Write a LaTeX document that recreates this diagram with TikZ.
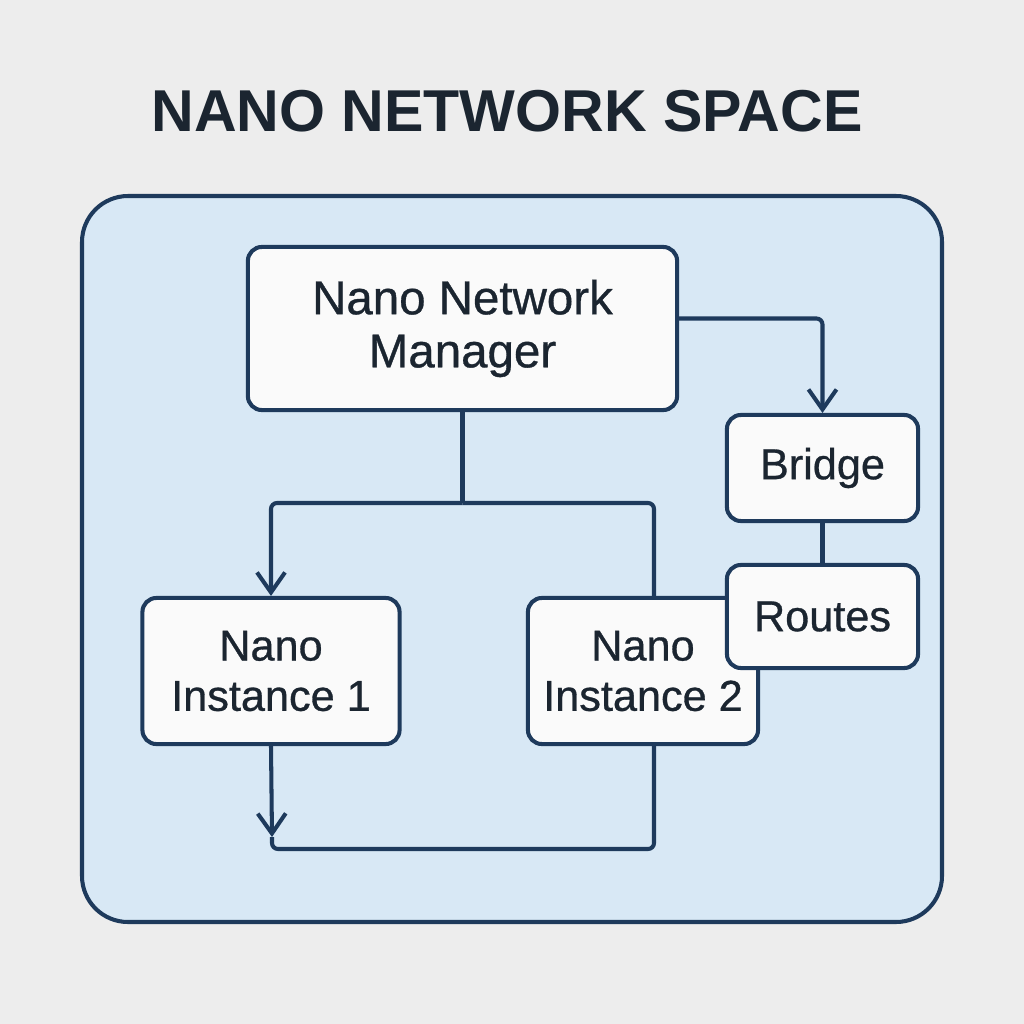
\documentclass[tikz,border=0pt]{standalone}
\usepackage{fontspec}
\setmainfont{Liberation Sans}
\newfontfamily\mediumfont[FakeBold=0.7]{Liberation Sans}
\usetikzlibrary{arrows.meta}
\definecolor{pagegray}{HTML}{EDEDED}
\definecolor{spaceblue}{HTML}{D8E8F5}
\definecolor{navy}{HTML}{1E3A5C}
\definecolor{ink}{HTML}{1B2530}
\definecolor{boxwhite}{HTML}{FAFAFA}

\begin{document}
\begin{tikzpicture}
    [x=0.01cm, y=-0.01cm,
    block/.style={rectangle, rounded corners=0.14cm, line width=1.15pt, draw=navy, fill=boxwhite,
        text=ink, align=center, inner sep=0pt, font=\mediumfont\fontsize{12.3pt}{14.3pt}\selectfont},
    link/.style={line width=1.15pt, draw=navy, rounded corners=0.06cm},
    arr/.style={link, -{Straight Barb[length=0.2cm, width=0.28cm, line width=1.15pt]}}]
    \fill[pagegray] (0,0) rectangle (1024,1024);
    \useasboundingbox (0,0) rectangle (1024,1024);
    \node[text=ink, font=\fontsize{16.8pt}{20pt}\selectfont\bfseries] (title) at (507,111) {NANO NETWORK SPACE};
    \draw[line width=1.15pt, draw=navy, fill=spaceblue, rounded corners=0.46cm] (82,196) rectangle (942,922);
    \node[block, minimum width=4.29cm, minimum height=1.63cm, font=\mediumfont\fontsize{13.5pt}{15.1pt}\selectfont] (mgr) at (462.5,328.5) {Nano Network\\Manager};
    \node[block, minimum width=1.91cm, minimum height=1.06cm] (bridge) at (822.5,468) {Bridge};
    \node[block, minimum width=2.57cm, minimum height=1.46cm] (inst1) at (271,671) {Nano\\Instance 1};
    \node[block, minimum width=2.30cm, minimum height=1.46cm] (inst2) at (643,671) {Nano\\Instance 2};
    \node[block, minimum width=1.91cm, minimum height=1.03cm] (routes) at (822.5,616.5) {Routes};
    \coordinate (split) at (462.5,503);
    \coordinate (join) at (272,849);
    \draw[arr] ([yshift=0.1cm]mgr.east) -| (bridge.north);
    \draw[link] (bridge.south) -- (routes.north);
    \draw[link] (mgr.south) -- (split);
    \draw[arr] (split) -| (inst1.north);
    \draw[link] (split) -| ([xshift=0.11cm]inst2.north);
    \draw[arr] (inst1.south) -- ([yshift=0.12cm]join);
    \draw[link] ([xshift=0.11cm]inst2.south) |- (join) -- ++(0,-12);
\end{tikzpicture}
\end{document}
